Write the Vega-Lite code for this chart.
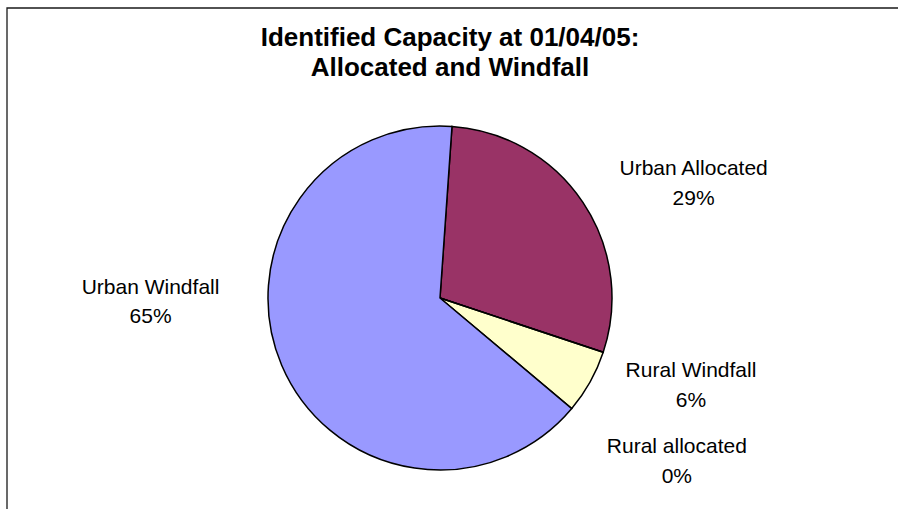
{
  "$schema": "https://vega.github.io/schema/vega-lite/v6.json",
  "width": 866,
  "height": 580,
  "autosize": {"type": "none"},
  "padding": {"left": 7, "top": 8, "right": 30, "bottom": 0},
  "background": "white",
  "config": {
    "view": {"stroke": null},
    "text": {"font": "Liberation Sans"}
  },
  "title": {
    "text": ["Identified Capacity at 01/04/05:", "Allocated and Windfall"],
    "font": "Liberation Sans",
    "fontSize": 26,
    "fontWeight": "bold",
    "color": "#000000",
    "lineHeight": 30.5,
    "anchor": "middle",
    "frame": "group",
    "offset": -74,
    "dx": 10
  },
  "data": {
    "values": [
      {"category": "Urban Allocated", "share": 0.29},
      {"category": "Rural Windfall", "share": 0.06},
      {"category": "Rural allocated", "share": 0.0},
      {"category": "Urban Windfall", "share": 0.65}
    ]
  },
  "layer": [
    {
      "data": {"values": [{"frame": "chart area"}]},
      "mark": {
        "type": "rect",
        "fill": "transparent",
        "stroke": "#1a1a1a",
        "strokeWidth": 1.3,
        "x": 0,
        "y": 0,
        "x2": {"expr": "width + 40"},
        "y2": {"expr": "height + 40"}
      },
      "encoding": {}
    },
    {
      "mark": {"type": "arc", "outerRadius": 172, "stroke": "#000000", "strokeWidth": 1.5},
      "encoding": {
        "theta": {
          "field": "share",
          "type": "quantitative",
          "stack": true,
          "scale": {"domain": [0, 1], "range": [2.26893, 8.55211]}
        },
        "order": {"field": "category", "type": "nominal", "sort": "descending"},
        "color": {
          "field": "category",
          "type": "nominal",
          "scale": {
            "domain": ["Urban Allocated", "Rural Windfall", "Rural allocated", "Urban Windfall"],
            "range": ["#993366", "#FFFFCC", "#CCFFFF", "#9999FF"]
          },
          "legend": null
        }
      }
    },
    {
      "mark": {
        "type": "text",
        "fontSize": 21,
        "font": "Liberation Sans",
        "color": "#000000",
        "align": "center",
        "baseline": "middle",
        "dy": -14.75,
        "radius": {"expr": "datum.category === 'Urban Allocated' ? 278 : datum.category === 'Rural Windfall' ? 266 : datum.category === 'Rural allocated' ? 288 : 289.5"},
        "thetaOffset": {"expr": "datum.category === 'Urban Allocated' ? 0.168 : datum.category === 'Rural Windfall' ? -0.172 : datum.category === 'Rural allocated' ? 0.284 : 0.3855"}
      },
      "encoding": {
        "theta": {
          "field": "share",
          "type": "quantitative",
          "stack": true,
          "scale": {"domain": [0, 1], "range": [2.26893, 8.55211]}
        },
        "order": {"field": "category", "type": "nominal", "sort": "descending"},
        "text": {"field": "category", "type": "nominal"}
      }
    },
    {
      "mark": {
        "type": "text",
        "fontSize": 21,
        "font": "Liberation Sans",
        "color": "#000000",
        "align": "center",
        "baseline": "middle",
        "dy": 14.75,
        "radius": {"expr": "datum.category === 'Urban Allocated' ? 278 : datum.category === 'Rural Windfall' ? 266 : datum.category === 'Rural allocated' ? 288 : 289.5"},
        "thetaOffset": {"expr": "datum.category === 'Urban Allocated' ? 0.168 : datum.category === 'Rural Windfall' ? -0.172 : datum.category === 'Rural allocated' ? 0.284 : 0.3855"}
      },
      "encoding": {
        "theta": {
          "field": "share",
          "type": "quantitative",
          "stack": true,
          "scale": {"domain": [0, 1], "range": [2.26893, 8.55211]}
        },
        "order": {"field": "category", "type": "nominal", "sort": "descending"},
        "text": {"field": "share", "type": "quantitative", "format": ".0%"}
      }
    }
  ]
}
